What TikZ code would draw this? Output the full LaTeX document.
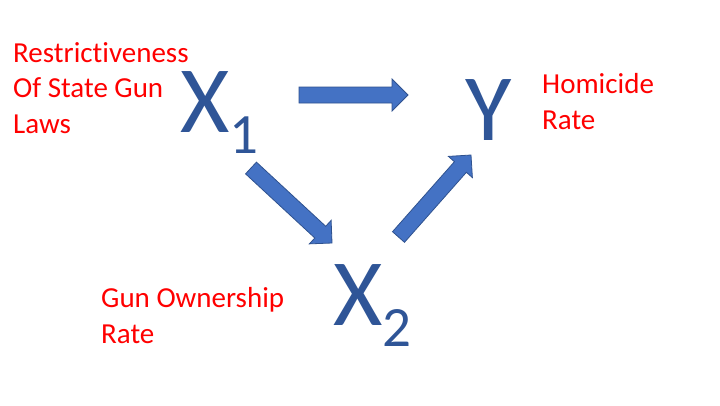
\documentclass[tikz,border=0pt]{standalone}
\usepackage{fontspec}
\setmainfont[Ligatures=NoCommon]{Carlito}
\usetikzlibrary{calc}
\definecolor{varblue}{HTML}{2F5597}
\definecolor{arrfill}{HTML}{4472C4}
\definecolor{arrline}{HTML}{2F528F}
\tikzset{
  lbl/.style={text=red, font=\fontsize{29}{35.5}\selectfont, align=left, anchor=base west, inner sep=0pt},
  var/.style={text=varblue, font=\fontsize{95}{95}\selectfont, anchor=base west, inner sep=0pt},
  blk/.style={fill=arrfill, draw=arrline, line width=0.8pt, line join=miter}
}
\newcommand{\subdig}[1]{\raisebox{-21pt}{\fontsize{57}{57}\selectfont #1}}
\newcommand{\blockarrow}[2]{%
  \coordinate (h) at ($(#2)!16pt!(#1)$);
  \draw[blk] ($(#1)!8pt!90:(#2)$) -- ($(h)!8pt!-90:(#1)$) -- ($(h)!16pt!-90:(#1)$) -- (#2)
    -- ($(h)!16pt!90:(#1)$) -- ($(h)!8pt!90:(#1)$) -- ($(#1)!8pt!-90:(#2)$) -- cycle;}
\begin{document}
\begin{tikzpicture}[x=1pt, y=-1pt]
\useasboundingbox[fill=white] (0,0) rectangle (720,405);
% labels (base = last line)
\node[lbl] (l1) at (13,133) {Restrictiveness\\Of State Gun\\Laws};
\node[lbl] (ly) at (542,129) {Homicide\\Rate};
\node[lbl] (l2) at (101,343) {Gun Ownership\\Rate};
% variables
\node[var] (x1) at (180,132) {X\subdig{1}};
\node[var] (y) at (465,140) {Y};
\node[var] (x2) at (333,325) {X\subdig{2}};
% arrow end points
\coordinate (x1e) at (299,95);
\coordinate (ye) at (408,95);
\coordinate (x1s) at (251,168);
\coordinate (x2n) at (332,243);
\coordinate (x2e) at (398.5,237);
\coordinate (ys) at (471,155);
\blockarrow{x1e}{ye}
\blockarrow{x1s}{x2n}
\blockarrow{x2e}{ys}
\end{tikzpicture}
\end{document}
